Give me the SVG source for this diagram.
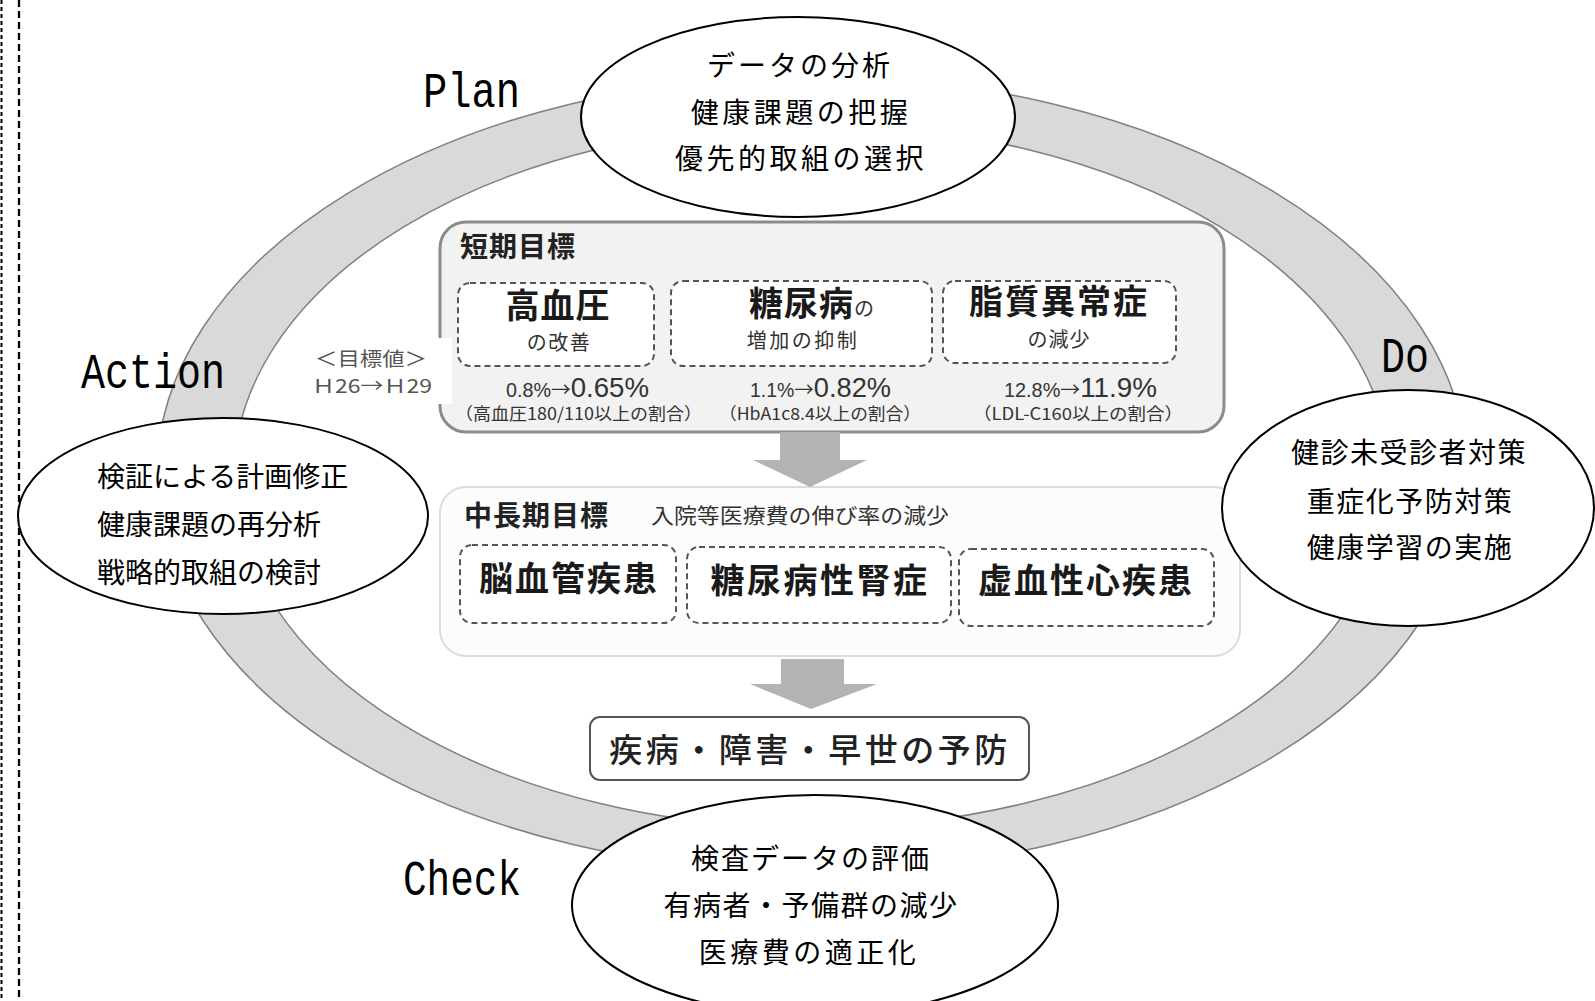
<svg xmlns="http://www.w3.org/2000/svg" width="1595" height="1001" viewBox="0 0 1595 1001">
<style>
.jp{font-family:'Noto Sans CJK JP',sans-serif;}
.ell{fill:#fff;stroke:#000;stroke-width:2;}
.etxt{font-family:'Noto Sans CJK JP',sans-serif;font-size:28px;fill:#000;}
.lbl{font-family:'Liberation Mono',monospace;font-size:50px;fill:#000;}
.dbox{fill:#fff;stroke:#555;stroke-width:2;stroke-dasharray:6 4;}
.big{font-family:'Noto Sans CJK JP',sans-serif;font-size:34px;font-weight:700;fill:#1a1a1a;}
.sub{font-family:'Noto Sans CJK JP',sans-serif;font-size:20px;fill:#333;}
.num{font-family:'Liberation Sans',sans-serif;fill:#333;}
.par{font-family:'Noto Sans CJK JP',sans-serif;font-size:17px;fill:#333;}
.arr{fill:#b3b3b3;}
</style>
<rect width="1595" height="1001" fill="#fff"/>
<g id="page-border">
<line x1="1.5" y1="0" x2="1.5" y2="1001" stroke="#000" stroke-width="2" stroke-dasharray="4 3"/>
<line x1="19" y1="0" x2="19" y2="1001" stroke="#000" stroke-width="2.3" stroke-dasharray="7 4"/>
</g>
<g id="cycle-ring">
<path d="M157,474 a655,398 0 1,0 1310,0 a655,398 0 1,0 -1310,0 Z M234,476 a578,352 0 1,0 1156,0 a578,352 0 1,0 -1156,0 Z" fill="#d9d9d9" fill-rule="evenodd" stroke="#808080" stroke-width="1.5"/>
</g>
<g id="short-term">
<rect x="440" y="222" width="784" height="210" rx="26" fill="#f2f2f2" stroke="#8c8c8c" stroke-width="3"/>
<text class="jp" x="460" y="257" font-size="28" font-weight="700" letter-spacing="1" fill="#222">短期目標</text>
<rect class="dbox" x="458" y="283" width="196" height="83" rx="12"/>
<rect class="dbox" x="671" y="281" width="261" height="85" rx="12"/>
<rect class="dbox" x="943" y="281" width="233" height="82" rx="12"/>
<text class="big" x="558" y="318" text-anchor="middle" letter-spacing="1">高血圧</text>
<text class="sub" x="559" y="350" text-anchor="middle" font-size="21" letter-spacing="1.5">の改善</text>
<text x="749" y="316"><tspan class="big" letter-spacing="1">糖尿病</tspan><tspan class="sub" font-size="20">の</tspan></text>
<text class="sub" x="803" y="348" text-anchor="middle" letter-spacing="2.5">増加の抑制</text>
<text class="big" x="1059" y="314" text-anchor="middle" letter-spacing="2">脂質異常症</text>
<text class="sub" x="1059" y="347" text-anchor="middle" font-size="21" letter-spacing="1">の減少</text>
<text class="num" x="506" y="397" textLength="143" lengthAdjust="spacingAndGlyphs"><tspan font-size="20">0.8%</tspan><tspan font-size="20" font-family="'Noto Sans CJK JP',sans-serif">→</tspan><tspan font-size="28">0.65%</tspan></text>
<text class="num" x="750" y="397" textLength="141" lengthAdjust="spacingAndGlyphs"><tspan font-size="20">1.1%</tspan><tspan font-size="20" font-family="'Noto Sans CJK JP',sans-serif">→</tspan><tspan font-size="28">0.82%</tspan></text>
<text class="num" x="1004" y="397" textLength="153" lengthAdjust="spacingAndGlyphs"><tspan font-size="20">12.8%</tspan><tspan font-size="20" font-family="'Noto Sans CJK JP',sans-serif">→</tspan><tspan font-size="28">11.9%</tspan></text>
<text class="par" x="455" y="420" textLength="247" lengthAdjust="spacingAndGlyphs">（高血圧180/110以上の割合）</text>
<text class="par" x="719" y="420" textLength="202" lengthAdjust="spacingAndGlyphs">（HbA1c8.4以上の割合）</text>
<text class="par" x="973" y="420" textLength="210" lengthAdjust="spacingAndGlyphs">（LDL-C160以上の割合）</text>
</g>
<g id="target-label">
<rect x="290" y="338" width="162" height="66" fill="#fff"/>
<text class="jp" x="315" y="366" font-size="19" fill="#555" textLength="112" lengthAdjust="spacingAndGlyphs">＜目標値＞</text>
<text class="jp" x="312" y="393" font-size="19" fill="#555" textLength="120" lengthAdjust="spacingAndGlyphs">Ｈ26→Ｈ29</text>
</g>
<g id="mid-long-term">
<rect x="440" y="487" width="800" height="169" rx="26" fill="#fcfcfc" stroke="#dcdcdc" stroke-width="2"/>
<text class="jp" x="464" y="526" font-size="28" font-weight="700" letter-spacing="1" fill="#222">中長期目標</text>
<text class="jp" x="651" y="523" font-size="21" fill="#333" textLength="298" lengthAdjust="spacingAndGlyphs">入院等医療費の伸び率の減少</text>
<rect class="dbox" x="460" y="545" width="216" height="78" rx="12"/>
<rect class="dbox" x="687" y="547" width="264" height="76" rx="12"/>
<rect class="dbox" x="959" y="549" width="255" height="77" rx="12"/>
<text class="big" x="569" y="591" text-anchor="middle" letter-spacing="2">脳血管疾患</text>
<text class="big" x="820" y="593" text-anchor="middle" letter-spacing="2.5">糖尿病性腎症</text>
<text class="big" x="1086" y="593" text-anchor="middle" letter-spacing="2">虚血性心疾患</text>
</g>
<g id="prevention">
<rect x="590" y="717" width="439" height="63" rx="10" fill="#fff" stroke="#555" stroke-width="2"/>
<text class="jp" x="810" y="762" text-anchor="middle" font-size="33" font-weight="500" letter-spacing="3.5" fill="#222">疾病・障害・早世の予防</text>
</g>
<g id="connectors">
<polygon class="arr" points="780,432 840,432 840,460 867,460 810,487 753,460 780,460"/>
<polygon class="arr" points="781,659 844,659 844,684 877,684 811,709 750,684 781,684"/>
</g>
<g id="plan">
<ellipse class="ell" cx="798" cy="117" rx="217" ry="100"/>
<text class="etxt" x="800" y="76" text-anchor="middle" letter-spacing="3">データの分析</text>
<text class="etxt" x="801" y="123" text-anchor="middle" letter-spacing="3.5">健康課題の把握</text>
<text class="etxt" x="801" y="169" text-anchor="middle" letter-spacing="3.5">優先的取組の選択</text>
</g>
<g id="do">
<ellipse class="ell" cx="1408" cy="508" rx="186" ry="118"/>
<text class="etxt" x="1409" y="463" text-anchor="middle" font-size="27" letter-spacing="1.5">健診未受診者対策</text>
<text class="etxt" x="1410" y="512" text-anchor="middle" font-size="27" letter-spacing="1.5">重症化予防対策</text>
<text class="etxt" x="1410" y="558" text-anchor="middle" font-size="27" letter-spacing="1.5">健康学習の実施</text>
</g>
<g id="action">
<ellipse class="ell" cx="223" cy="516" rx="205" ry="98"/>
<text class="etxt" x="97" y="487" font-size="27">検証による計画修正</text>
<text class="etxt" x="97" y="535" font-size="27">健康課題の再分析</text>
<text class="etxt" x="97" y="583" font-size="27">戦略的取組の検討</text>
</g>
<g id="check">
<ellipse class="ell" cx="815" cy="905" rx="243" ry="110"/>
<text class="etxt" x="811" y="869" text-anchor="middle" letter-spacing="2">検査データの評価</text>
<text class="etxt" x="811" y="916" text-anchor="middle" letter-spacing="1.5">有病者・予備群の減少</text>
<text class="etxt" x="809" y="963" text-anchor="middle" letter-spacing="3.5">医療費の適正化</text>
</g>
<g id="phase-labels">
<text class="lbl" x="423" y="107" textLength="97" lengthAdjust="spacingAndGlyphs">Plan</text>
<text class="lbl" x="81" y="388" textLength="144" lengthAdjust="spacingAndGlyphs">Action</text>
<text class="lbl" x="1381" y="372" textLength="48" lengthAdjust="spacingAndGlyphs">Do</text>
<text class="lbl" x="403" y="895" textLength="118" lengthAdjust="spacingAndGlyphs">Check</text>
</g>
</svg>
